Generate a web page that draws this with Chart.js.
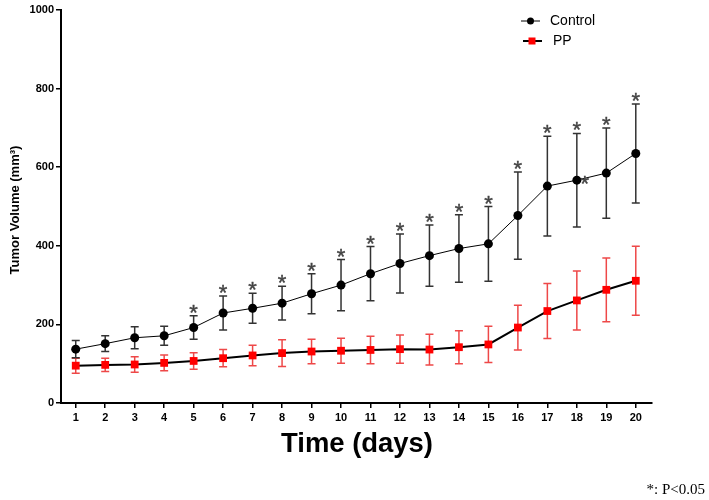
<!DOCTYPE html>
<html>
<head>
<meta charset="utf-8">
<script src="https://cdn.jsdelivr.net/npm/chart.js@4/dist/chart.umd.min.js"></script>
<style>
html,body{margin:0;padding:0;background:#fff;}
#c{display:block;}
</style>
</head>
<body>
<canvas id="c" width="709" height="500"></canvas>
<script>
const days = [1,2,3,4,5,6,7,8,9,10,11,12,13,14,15,16,17,18,19,20];
const controlMean = [137,151,166,171,192,229,241,254,278,300,329,355,375,393,405,477,552,567,585,635];
const controlErr = [22,20,28,24,30,43,38,43,51,65,69,75,78,86,95,111,127,119,115,126];
const ppMean = [95,97,98,102,107,114,121,127,131,133,135,137,136,142,149,192,234,261,288,311];
const ppErr = [19,17,20,20,21,22,26,34,31,32,35,36,39,42,46,57,70,75,81,88];
const yTicks = [0,200,400,600,800,1000];
const starDays = [5,6,7,8,9,10,11,12,13,14,15,16,17,18,19,20];
const extraStarDays = [18];
const seriesNames = ["Control","PP"];

const FONT = "'Liberation Sans', Arial, sans-serif";

const errorBars = {
  id: 'errorBars',
  beforeDatasetsDraw(chart) {
    const ctx = chart.ctx, xs = chart.scales.x, ys = chart.scales.y;
    const sets = [
      {m: ppMean, e: ppErr, color: 'rgba(235,40,40,0.85)', w: 1.5},
      {m: controlMean, e: controlErr, color: '#333', w: 1.5}
    ];
    ctx.save();
    sets.forEach(s => {
      ctx.strokeStyle = s.color; ctx.lineWidth = s.w;
      days.forEach((d, i) => {
        const x = xs.getPixelForValue(d);
        const t = ys.getPixelForValue(s.m[i] + s.e[i]);
        const b = ys.getPixelForValue(s.m[i] - s.e[i]);
        ctx.beginPath();
        ctx.moveTo(x, t); ctx.lineTo(x, b);
        ctx.moveTo(x - 4, t); ctx.lineTo(x + 4, t);
        ctx.moveTo(x - 4, b); ctx.lineTo(x + 4, b);
        ctx.stroke();
      });
    });
    ctx.restore();
  },
  afterDraw(chart) {
    const ctx = chart.ctx, xs = chart.scales.x, ys = chart.scales.y;
    ctx.save();
    // asterisks
    ctx.fillStyle = '#444';
    ctx.strokeStyle = '#444';
    ctx.lineWidth = 0.4;
    ctx.font = '22px ' + FONT;
    ctx.textAlign = 'center';
    ctx.textBaseline = 'alphabetic';
    starDays.forEach(d => {
      const i = days.indexOf(d);
      const x = xs.getPixelForValue(d);
      const t = ys.getPixelForValue(controlMean[i] + controlErr[i]);
      ctx.fillText('*', x, t + 4);
      ctx.strokeText('*', x, t + 4);
    });
    extraStarDays.forEach(d => {
      const i = days.indexOf(d);
      const x = xs.getPixelForValue(d);
      const y = ys.getPixelForValue(controlMean[i]);
      ctx.fillText('*', x + 8, y + 11);
      ctx.strokeText('*', x + 8, y + 11);
    });
    // legend
    ctx.strokeStyle = '#000';
    ctx.lineWidth = 1;
    ctx.beginPath(); ctx.moveTo(521, 21); ctx.lineTo(540, 21); ctx.stroke();
    ctx.fillStyle = '#000';
    ctx.beginPath(); ctx.arc(530.5, 21, 3.5, 0, Math.PI * 2); ctx.fill();
    ctx.lineWidth = 2;
    ctx.beginPath(); ctx.moveTo(523, 41); ctx.lineTo(542, 41); ctx.stroke();
    ctx.fillStyle = '#ff0000';
    ctx.fillRect(528.5, 37.5, 7, 7);
    ctx.fillStyle = '#000';
    ctx.font = '14px ' + FONT;
    ctx.textAlign = 'left';
    ctx.textBaseline = 'middle';
    ctx.fillText(seriesNames[0], 550, 21);
    ctx.fillText(seriesNames[1], 553, 41);
    // y title
    ctx.save();
    ctx.translate(15, 210);
    ctx.rotate(-Math.PI / 2);
    ctx.font = 'bold 13px ' + FONT;
    ctx.textAlign = 'center';
    ctx.textBaseline = 'middle';
    ctx.fillText('Tumor Volume (mm³)', 0, 0);
    ctx.restore();
    // x title (condensed)
    ctx.save();
    ctx.font = 'bold 28px ' + FONT;
    const txt = 'Time (days)';
    const w = ctx.measureText(txt).width;
    const target = 152;
    ctx.translate(357, 444);
    ctx.scale(target / w, 1);
    ctx.textAlign = 'center';
    ctx.textBaseline = 'middle';
    ctx.fillText(txt, 0, 0);
    ctx.restore();
    // footnote
    ctx.font = '15px "Liberation Serif", "Times New Roman", serif';
    ctx.textAlign = 'right';
    ctx.textBaseline = 'middle';
    ctx.fillText('*: P<0.05', 705, 490);
    ctx.restore();
  }
};

new Chart(document.getElementById('c'), {
  type: 'line',
  data: {
    datasets: [
      {
        label: seriesNames[0],
        data: days.map((d, i) => ({x: d, y: controlMean[i]})),
        borderColor: '#000', borderWidth: 1,
        pointStyle: 'circle', pointRadius: 4.5,
        pointBackgroundColor: '#000', pointBorderColor: '#000', pointBorderWidth: 0,
        tension: 0
      },
      {
        label: seriesNames[1],
        data: days.map((d, i) => ({x: d, y: ppMean[i]})),
        borderColor: '#000', borderWidth: 2,
        pointStyle: 'rect', pointRadius: 5.5,
        pointBackgroundColor: '#ff0000', pointBorderColor: '#ff0000', pointBorderWidth: 0,
        tension: 0
      }
    ]
  },
  options: {
    responsive: false,
    animation: false,
    devicePixelRatio: 1,
    layout: {padding: {top: 10, right: 57, left: 0, bottom: 0}},
    plugins: {legend: {display: false}, tooltip: {enabled: false}},
    scales: {
      x: {
        type: 'linear', min: 0.5, max: 20.55,
        afterBuildTicks: s => { s.ticks = days.map(v => ({value: v})); },
        afterFit: s => { s.height = 97; },
        ticks: {color: '#000', font: {family: FONT, weight: 'bold', size: 11}, padding: 3, maxRotation: 0, autoSkip: false,
                callback: v => String(v)},
        grid: {drawOnChartArea: false, drawTicks: true, tickLength: 5, color: '#000', lineWidth: 1.5},
        border: {color: '#000', width: 2}
      },
      y: {
        type: 'linear', min: 0, max: 1000,
        afterBuildTicks: s => { s.ticks = yTicks.map(v => ({value: v})); },
        afterFit: s => { s.width = 61; },
        ticks: {color: '#000', font: {family: FONT, weight: 'bold', size: 11}, padding: 2,
                callback: v => String(v)},
        grid: {drawOnChartArea: false, drawTicks: true, tickLength: 5, color: '#000', lineWidth: 1.5},
        border: {color: '#000', width: 2}
      }
    }
  },
  plugins: [errorBars]
});
</script>
</body>
</html>
